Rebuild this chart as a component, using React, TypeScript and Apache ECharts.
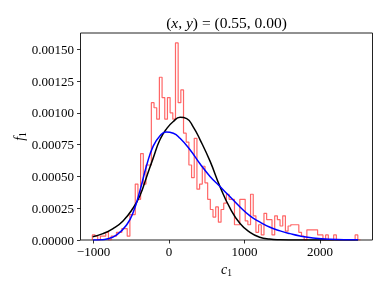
import React, { useEffect, useRef } from 'react';
import * as echarts from 'echarts';

// Histogram (density)
const histStart = -1015;
const binWidth = 35.5;
const histDensity = [
  0.00004, 0.00003, 0, 0.00003, 0.00003, 0.00006, 0, 0.00003, 0.00003, 0.00006,
  0.00006, 0.00009, 0.00009, 0.00003, 0.0002, 0.0002, 0.00044, 0.00032, 0.00068, 0.00044,
  0.00059, 0.00059, 0.00108, 0.00104, 0.00095, 0.00128, 0.00112, 0.00095, 0.00112, 0.001,
  0.00095, 0.00155, 0.00108, 0.00118, 0.00084, 0.00077, 0.00059, 0.00049, 0.0008, 0.0004,
  0.00044, 0.00058, 0.00045, 0.00032, 0.00024, 0.00018, 0.00026, 0.00014, 0.00024, 0.00029,
  0.00036, 0.00032, 0.00032, 0.00012, 0.00012, 0.00032, 0.00032, 0.00015, 0.00012, 0.00036,
  0.00019, 0.00006, 0.00012, 0.00004, 0.00021, 0.00016, 0.00016, 0.00004, 0.00019, 0.00016,
  0.00011, 0.00019, 0.00007, 0.00011, 0.00012, 0.00012, 0.00012, 0.00006, 0.00003, 0,
  0.00008, 0.00008, 0.00008, 0.00008, 0.00004, 0.00004, 0, 0.00004, 0, 0,
  0.00004, 0, 0, 0, 0, 0, 0, 0, 0.00004, 0,
];

// Black curve (normal fit)
const normalX = [-1010, -875, -741, -609, -477, -384, -295, -212, -119, -26, 53, 146, 234, 320, 410, 543, 675, 808, 940, 1072, 1200, 1330, 1470, 1700, 2100, 2503];
const normalY = [0.000026, 0.00005, 0.00009, 0.00015, 0.00025, 0.00035, 0.0005, 0.00064, 0.00079, 0.00088, 0.00093, 0.000965, 0.000955, 0.00089, 0.00079, 0.00062, 0.00042, 0.00025, 0.00013, 0.00006, 0.000022, 0.000007, 0.000002, 0, 0, 0];

// Blue curve (skewed fit)
const skewX = [-1006, -900, -825, -692, -560, -473, -384, -295, -208, -119, -40, 57, 146, 278, 410, 543, 675, 808, 940, 1072, 1205, 1337, 1470, 1602, 1734, 1907, 2132, 2503];
const skewY = [0, 0.000002, 0.000008, 0.00004, 0.00012, 0.00022, 0.00039, 0.00059, 0.00074, 0.00082, 0.00085, 0.00084, 0.0008, 0.00071, 0.0006, 0.0005, 0.00042, 0.00034, 0.00026, 0.00019, 0.00014, 0.0001, 0.000072, 0.00005, 0.000032, 0.000016, 0.000006, 0.000001];

const xTicks = [-1000, 0, 1000, 2000];
const yTicks = [0, 0.00025, 0.0005, 0.00075, 0.001, 0.00125, 0.0015];

const FONT = '"Liberation Serif", "DejaVu Serif", serif';

export default function App() {
  const ref = useRef<HTMLDivElement>(null);
  useEffect(() => {
    if (!ref.current) return;
    const chart = echarts.init(ref.current, undefined, { renderer: 'svg' });

    const n = histDensity.length;
    const histPoints: number[][] = [[histStart, 0]];
    histDensity.forEach((d, i) => histPoints.push([histStart + i * binWidth, d]));
    histPoints.push([histStart + n * binWidth, histDensity[n - 1]]);
    histPoints.push([histStart + n * binWidth, 0]);

    const normalPts = normalX.map((x, i) => [x, normalY[i]]);
    const skewPts = skewX.map((x, i) => [x, skewY[i]]);

    chart.setOption({
      animation: false,
      grid: {
        left: 80.5, top: 33, right: 15.5, bottom: 51,
        show: true, borderColor: '#222', borderWidth: 1, backgroundColor: 'transparent',
      },
      xAxis: {
        type: 'value', min: -1172, max: 2694,
        splitLine: { show: false },
        axisLine: { show: false, onZero: false },
        axisTick: { show: true, length: 3.5, lineStyle: { color: '#000', width: 0.8 }, customValues: xTicks },
        axisLabel: {
          customValues: xTicks, color: '#000', fontFamily: FONT, fontSize: 13, margin: 5,
          formatter: (v: number) => (v < 0 ? '\u2212' + Math.abs(v) : String(v)),
        },
      },
      yAxis: {
        type: 'value', min: 0, max: 0.001628,
        splitLine: { show: false },
        axisLine: { show: false, onZero: false },
        axisTick: { show: true, length: 3.5, lineStyle: { color: '#000', width: 0.8 }, customValues: yTicks },
        axisLabel: {
          customValues: yTicks, color: '#000', fontFamily: FONT, fontSize: 13, margin: 6.5,
          formatter: (v: number) => v.toFixed(5),
        },
      },
      graphic: [
        {
          type: 'text', x: 226.5, y: 22,
          style: {
            text: '{n|(}{i|x}{n|, }{i|y}{n|) = (0.55, 0.00)}',
            align: 'center', verticalAlign: 'middle',
            rich: {
              n: { fontFamily: FONT, fontSize: 15.5, fill: '#000' },
              i: { fontFamily: FONT, fontSize: 15.5, fontStyle: 'italic', fill: '#000' },
            },
          },
        },
        {
          type: 'text', x: 226.5, y: 269,
          style: {
            text: '{i|c}{s|1}',
            align: 'center', verticalAlign: 'middle',
            rich: {
              i: { fontFamily: FONT, fontSize: 14, fontStyle: 'italic', fill: '#000' },
              s: { fontFamily: FONT, fontSize: 9.5, fill: '#000', padding: [7, 0, 0, 0] },
            },
          },
        },
        {
          type: 'text', x: 19, y: 136.5, rotation: Math.PI / 2,
          style: {
            text: '{i|f}{s|1}',
            align: 'center', verticalAlign: 'middle',
            rich: {
              i: { fontFamily: FONT, fontSize: 14, fontStyle: 'italic', fill: '#000' },
              s: { fontFamily: FONT, fontSize: 9.5, fill: '#000', padding: [7, 0, 0, 0] },
            },
          },
        },
      ],
      series: [
        {
          type: 'line', data: histPoints, step: 'end', symbol: 'none',
          lineStyle: { color: 'rgba(255,0,0,0.6)', width: 1.2 },
        },
        {
          type: 'line', data: normalPts, smooth: 0.5, symbol: 'none',
          lineStyle: { color: '#000', width: 1.5 },
        },
        {
          type: 'line', data: skewPts, smooth: 0.5, symbol: 'none',
          lineStyle: { color: '#0000ff', width: 1.5 },
        },
      ],
    });
    return () => chart.dispose();
  }, []);
  return <div ref={ref} style={{ position: 'fixed', left: 0, top: 0, width: 388, height: 291 }} />;
}
